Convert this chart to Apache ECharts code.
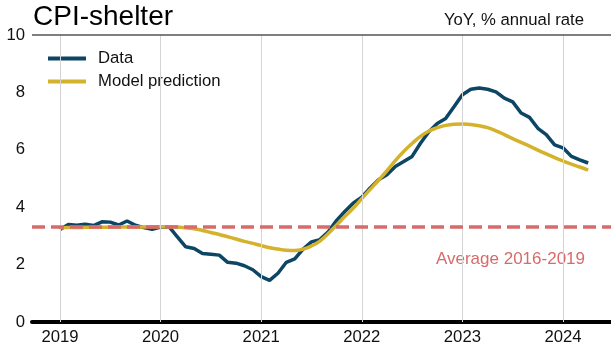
<!DOCTYPE html>
<html>
<head>
<meta charset="utf-8">
<script src="https://cdn.jsdelivr.net/npm/echarts@6/dist/echarts.min.js"></script>
<style>
html,body{margin:0;padding:0;background:#fff;}
#chart{width:611px;height:346px;}
</style>
</head>
<body>
<div id="chart"></div>
<script>
// ---- data (monthly, Jan 2019 .. Apr 2024) ----
var startYear = 2019;
var yearTicks = [2019, 2020, 2021, 2022, 2023, 2024];
var cpiShelter = [
  3.22, 3.40, 3.37, 3.41, 3.36, 3.49, 3.48, 3.38, 3.52, 3.37, 3.29, 3.23,
  3.31, 3.32, 2.97, 2.62, 2.56, 2.39, 2.36, 2.33, 2.08, 2.05, 1.96, 1.82,
  1.58, 1.45, 1.70, 2.08, 2.20, 2.54, 2.79, 2.87, 3.14, 3.54, 3.86, 4.15,
  4.35, 4.67, 4.96, 5.13, 5.42, 5.59, 5.77, 6.23, 6.63, 6.92, 7.09, 7.50,
  7.92, 8.11, 8.15, 8.11, 8.02, 7.80, 7.67, 7.28, 7.13, 6.75, 6.53, 6.17,
  6.07, 5.77, 5.65, 5.54
];
var modelPrediction = [
  3.28, 3.29, 3.29, 3.30, 3.30, 3.30, 3.31, 3.31, 3.31, 3.31, 3.31, 3.32,
  3.32, 3.32, 3.31, 3.28, 3.25, 3.19, 3.12, 3.05, 2.97, 2.89, 2.81, 2.74,
  2.66, 2.59, 2.54, 2.50, 2.49, 2.54, 2.65, 2.82, 3.08, 3.38, 3.68, 3.97,
  4.30, 4.62, 4.94, 5.27, 5.62, 5.94, 6.22, 6.47, 6.65, 6.77, 6.85, 6.89,
  6.90, 6.88, 6.84, 6.77, 6.66, 6.53, 6.39, 6.26, 6.13, 5.99, 5.86, 5.73,
  5.61, 5.50, 5.40, 5.29
];
var average2016to2019 = 3.32;
var yTop = 10;

function toPairs(arr) {
  return arr.map(function (v, i) { return [startYear + i / 12, v]; });
}

var FONT = '"Liberation Sans", Arial, Helvetica, sans-serif';
var chart = echarts.init(document.getElementById('chart'), null, {renderer: 'canvas'});

var option = {
  animation: false,
  backgroundColor: '#ffffff',
  textStyle: {fontFamily: FONT},
  grid: {left: 32, right: 0, top: 35, bottom: 21, containLabel: false},
  xAxis: {
    type: 'value',
    min: 2018.722,
    max: 2024.477,
    axisLine: {show: true, lineStyle: {color: '#000', width: 4}},
    axisTick: {show: false},
    splitLine: {show: false},
    axisLabel: {
      customValues: yearTicks,
      formatter: function (v) { return String(Math.round(v)); },
      color: '#111', fontSize: 16.7, fontFamily: FONT, margin: 7
    }
  },
  yAxis: {
    type: 'value',
    min: 0, max: 10, interval: 2,
    axisLine: {show: false},
    axisTick: {show: false},
    splitLine: {show: false},
    axisLabel: {color: '#111', fontSize: 16.7, fontFamily: FONT, margin: 7}
  },
  legend: {
    orient: 'vertical',
    left: 48, top: 50, padding: 0,
    itemWidth: 38, itemHeight: 4, itemGap: 6,
    icon: 'rect',
    textStyle: {fontSize: 16.7, color: '#111', fontFamily: FONT, padding: [0, 0, 0, 7]},
    data: ['Data', 'Model prediction']
  },
  series: [
    {
      name: 'grid', type: 'line', data: [], silent: true, z: 1,
      markLine: {
        silent: true, symbol: 'none', label: {show: false}, animation: false,
        lineStyle: {color: '#d4d4d4', width: 1, type: 'solid'},
        data: yearTicks.map(function (y) { return {xAxis: y}; }).concat([
          {yAxis: yTop, lineStyle: {color: '#555', width: 1.5, type: 'solid'}}
        ])
      }
    },
    {
      name: 'Data', type: 'line', data: toPairs(cpiShelter),
      showSymbol: false, smooth: false, z: 3,
      lineStyle: {color: '#0d4565', width: 3.5}, itemStyle: {color: '#0d4565'}
    },
    {
      name: 'Model prediction', type: 'line', data: toPairs(modelPrediction),
      showSymbol: false, smooth: true, z: 4,
      lineStyle: {color: '#d5b22c', width: 3.5}, itemStyle: {color: '#d5b22c'}
    },
    {
      name: 'avg', type: 'line', data: [], silent: true, z: 5,
      markLine: {
        silent: true, symbol: 'none', animation: false,
        lineStyle: {color: '#d86a6a', width: 3.5, type: [13, 6]},
        label: {show: false},
        data: [{yAxis: average2016to2019}]
      }
    }
  ],
  graphic: [
    {type: 'text', left: 33, top: 3, style: {text: 'CPI-shelter', font: '28px ' + FONT, fill: '#000'}},
    {type: 'text', right: 27, top: 12, style: {text: 'YoY, % annual rate', font: '16.7px ' + FONT, fill: '#111'}},
    {type: 'text', right: 26, top: 251, style: {text: 'Average 2016-2019', font: '17px ' + FONT, fill: '#d86a6a'}}
  ]
};
chart.setOption(option);
</script>
</body>
</html>
